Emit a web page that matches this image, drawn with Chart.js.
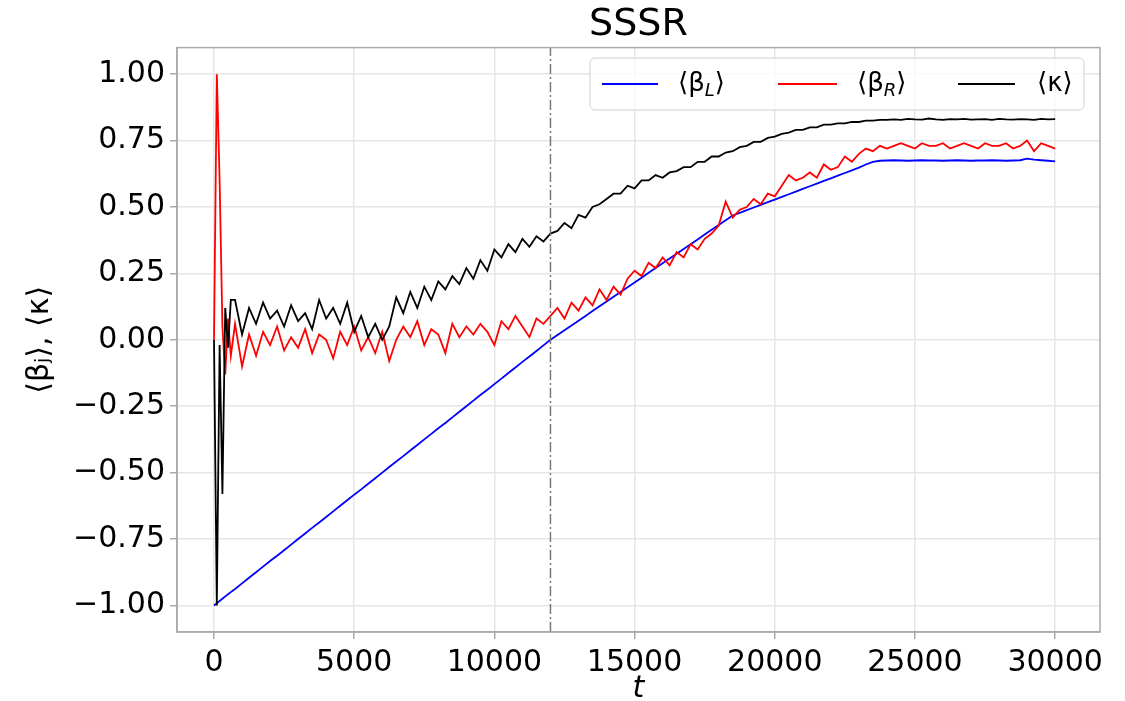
<!DOCTYPE html>
<html>
<head>
<meta charset="utf-8">
<script src="https://cdn.jsdelivr.net/npm/chart.js@4"></script>
<style>
  html, body { margin: 0; padding: 0; background: #fff; }
  #p5Canvas { width: 1125px; height: 701px; position: relative; }
</style>
</head>
<body>
<div id="p5Canvas"><canvas id="plotGraph"></canvas></div>
<script>
// time steps (t)
const tValues = [
  0, 100, 200, 300, 400, 500, 600,
  750, 1000, 1250, 1500, 1750, 2000, 2250, 2500, 2750, 3000,
  3250, 3500, 3750, 4000, 4250, 4500, 4750, 5000, 5250, 5500,
  5750, 6000, 6250, 6500, 6750, 7000, 7250, 7500, 7750, 8000,
  8250, 8500, 8750, 9000, 9250, 9500, 9750, 10000, 10250, 10500,
  10750, 11000, 11250, 11500, 11750, 12000,
  12250, 12500, 12750, 13000, 13250, 13500, 13750, 14000, 14250, 14500,
  14750, 15000, 15250, 15500, 15750, 16000, 16250, 16500, 16750, 17000,
  17250, 17500, 17750, 18000, 18250, 18500, 18750, 19000, 19250, 19500,
  19750, 20000, 20250, 20500, 20750, 21000, 21250, 21500, 21750, 22000,
  22250, 22500, 22750, 23000, 23250, 23500, 23750, 24000,
  24250, 24500, 24750, 25000, 25250, 25500, 25750, 26000, 26250, 26500,
  26750, 27000, 27250, 27500, 27750, 28000, 28250, 28500, 28750, 29000,
  29250, 29500, 29750, 30000
]

// <beta_L>
const betaL = [
  -1.0, -0.992, -0.983, -0.975, -0.966, -0.958, -0.950,
  -0.938, -0.917, -0.896, -0.875, -0.854, -0.833, -0.813, -0.792, -0.771, -0.750,
  -0.729, -0.708, -0.688, -0.667, -0.646, -0.625, -0.604, -0.583, -0.563, -0.542,
  -0.521, -0.500, -0.479, -0.458, -0.438, -0.417, -0.396, -0.375, -0.354, -0.333,
  -0.313, -0.292, -0.271, -0.250, -0.229, -0.208, -0.188, -0.167, -0.146, -0.125,
  -0.104, -0.083, -0.063, -0.042, -0.021, 0.000,
  0.018, 0.036, 0.054, 0.072, 0.090, 0.108, 0.126, 0.144, 0.162, 0.180,
  0.198, 0.216, 0.234, 0.252, 0.270, 0.288, 0.306, 0.324, 0.342, 0.360,
  0.378, 0.396, 0.414, 0.432, 0.450, 0.468, 0.478, 0.488, 0.498, 0.508,
  0.518, 0.528, 0.538, 0.548, 0.558, 0.568, 0.578, 0.588, 0.598, 0.608,
  0.618, 0.628, 0.638, 0.648, 0.660, 0.670, 0.674, 0.675,
  0.676, 0.675, 0.674, 0.675, 0.676, 0.675, 0.675, 0.674, 0.675, 0.676,
  0.675, 0.674, 0.675, 0.675, 0.676, 0.675, 0.674, 0.675, 0.676, 0.682,
  0.678, 0.676, 0.674, 0.672
]

// <beta_R>
const betaR = [
  0.0, 1.0, 0.60, 0.05, -0.13, 0.08, -0.06,
  0.06, -0.10, 0.02, -0.06, 0.03, -0.02, 0.05, -0.04, 0.01, -0.03,
  0.04, -0.05, 0.02, 0.00, -0.07, 0.03, -0.02, 0.05, -0.04, 0.01,
  -0.05, 0.03, -0.08, 0.00, 0.05, 0.01, 0.07, -0.02, 0.04, 0.02,
  -0.05, 0.06, 0.01, 0.05, 0.02, 0.06, 0.03, -0.02, 0.07, 0.04,
  0.09, 0.05, 0.01, 0.08, 0.06, 0.09,
  0.12, 0.08, 0.14, 0.11, 0.16, 0.13, 0.19, 0.15, 0.20, 0.17,
  0.23, 0.26, 0.24, 0.29, 0.27, 0.31, 0.28, 0.33, 0.31, 0.36,
  0.34, 0.38, 0.40, 0.43, 0.52, 0.46, 0.49, 0.50, 0.53, 0.51,
  0.55, 0.54, 0.58, 0.62, 0.60, 0.61, 0.63, 0.61, 0.66, 0.64,
  0.65, 0.69, 0.67, 0.70, 0.72, 0.71, 0.73, 0.72,
  0.73, 0.74, 0.73, 0.72, 0.74, 0.73, 0.73, 0.74, 0.72, 0.73,
  0.74, 0.73, 0.72, 0.74, 0.73, 0.73, 0.74, 0.72, 0.73, 0.75,
  0.71, 0.74, 0.73, 0.72
]

// <kappa>
const kappa = [
  0.0, -1.0, -0.02, -0.58, 0.12, -0.03, 0.15,
  0.15, 0.02, 0.12, 0.06, 0.14, 0.08, 0.11, 0.05, 0.13, 0.07,
  0.10, 0.04, 0.15, 0.08, 0.12, 0.06, 0.14, 0.03, 0.09, 0.01,
  0.06, 0.00, 0.05, 0.16, 0.10, 0.18, 0.12, 0.20, 0.15, 0.22,
  0.19, 0.24, 0.21, 0.27, 0.23, 0.30, 0.26, 0.34, 0.31, 0.36,
  0.33, 0.38, 0.35, 0.39, 0.37, 0.40,
  0.41, 0.44, 0.42, 0.47, 0.46, 0.50, 0.51, 0.53, 0.55, 0.55,
  0.58, 0.57, 0.60, 0.60, 0.62, 0.61, 0.63, 0.635, 0.65, 0.65,
  0.67, 0.67, 0.69, 0.69, 0.705, 0.71, 0.725, 0.73, 0.745, 0.745,
  0.76, 0.765, 0.775, 0.78, 0.79, 0.79, 0.80, 0.80, 0.81, 0.81,
  0.815, 0.815, 0.82, 0.82, 0.825, 0.825, 0.828, 0.828,
  0.83, 0.828, 0.832, 0.83, 0.829, 0.833, 0.83, 0.828, 0.831, 0.83,
  0.832, 0.829, 0.83, 0.831, 0.828, 0.832, 0.83, 0.829, 0.831, 0.83,
  0.828, 0.832, 0.83, 0.831
]

const markerT = 12000
const xTicks = [0, 5000, 10000, 15000, 20000, 25000, 30000]
const yTicks = [-1.0, -0.75, -0.5, -0.25, 0, 0.25, 0.5, 0.75, 1.0]

const FONT = "'DejaVu Sans', sans-serif"

function toPoints(arr) {
  return arr.map((v, i) => ({ x: tValues[i], y: v }))
}

// 枠線と凡例
const framePlugin = {
  id: 'frameAndLegend',
  afterDatasetsDraw(chart) {
    const { ctx, chartArea: a } = chart
    ctx.save()
    ctx.strokeStyle = '#aaaaaa'
    ctx.lineWidth = 1.5
    ctx.strokeRect(a.left, a.top, a.right - a.left, a.bottom - a.top)

    // legend box
    const bx = 590, by = 58, bw = 494, bh = 52, r = 5
    ctx.beginPath()
    ctx.moveTo(bx + r, by)
    ctx.arcTo(bx + bw, by, bx + bw, by + bh, r)
    ctx.arcTo(bx + bw, by + bh, bx, by + bh, r)
    ctx.arcTo(bx, by + bh, bx, by, r)
    ctx.arcTo(bx, by, bx + bw, by, r)
    ctx.closePath()
    ctx.fillStyle = 'rgba(255,255,255,0.8)'
    ctx.fill()
    ctx.strokeStyle = '#d0d0d0'
    ctx.lineWidth = 1
    ctx.stroke()

    const items = [
      { color: 'blue', x0: 602, x1: 658, tx: 678, base: '⟨β', sub: 'L', end: '⟩' },
      { color: 'red', x0: 778, x1: 837, tx: 857, base: '⟨β', sub: 'R', end: '⟩' },
      { color: 'black', x0: 958, x1: 1015, tx: 1037, base: '⟨κ', sub: '', end: '⟩' }
    ]
    const ly = 84
    items.forEach(it => {
      ctx.strokeStyle = it.color
      ctx.lineWidth = 2
      ctx.beginPath()
      ctx.moveTo(it.x0, ly)
      ctx.lineTo(it.x1, ly)
      ctx.stroke()
      ctx.fillStyle = '#000'
      ctx.textBaseline = 'middle'
      ctx.textAlign = 'left'
      ctx.font = '26px ' + FONT
      let x = it.tx
      ctx.fillText(it.base, x, ly)
      x += ctx.measureText(it.base).width
      if (it.sub) {
        ctx.font = 'italic 18px ' + FONT
        ctx.fillText(it.sub, x, ly + 7)
        x += ctx.measureText(it.sub).width
        ctx.font = '26px ' + FONT
      }
      ctx.fillText(it.end, x, ly)
    })
    ctx.restore()
  }
}

let mainChartObj
function drawGraph() {
  const mainData = {
    datasets: [
      {
        label: '⟨β_L⟩',
        data: toPoints(betaL),
        borderColor: 'blue',
        borderWidth: 1.8,
        pointRadius: 0,
        order: 3
      },
      {
        label: '⟨β_R⟩',
        data: toPoints(betaR),
        borderColor: 'red',
        borderWidth: 1.8,
        pointRadius: 0,
        order: 2
      },
      {
        label: '⟨κ⟩',
        data: toPoints(kappa),
        borderColor: 'black',
        borderWidth: 1.8,
        pointRadius: 0,
        order: 1
      },
      {
        label: 'marker',
        data: [{ x: markerT, y: -1.1 }, { x: markerT, y: 1.1 }],
        borderColor: '#777777',
        borderWidth: 1.5,
        borderDash: [10, 3, 2, 3],
        pointRadius: 0,
        order: 0
      }
    ]
  }

  const mainOptions = {
    responsive: true,
    maintainAspectRatio: false,
    animation: false,
    devicePixelRatio: 1,
    layout: { padding: { left: 0, right: 25, top: 0, bottom: 0 } },
    plugins: {
      legend: { display: false },
      tooltip: { enabled: false },
      title: {
        display: true,
        text: 'SSSR',
        fullSize: false,
        color: '#000',
        font: { family: FONT, size: 38, weight: 'normal' },
        padding: { top: 2, bottom: 0 }
      }
    },
    scales: {
      x: {
        type: 'linear',
        min: -1320,
        max: 31600,
        afterBuildTicks: s => { s.ticks = xTicks.map(v => ({ value: v })) },
        afterFit: s => { s.height = 69 },
        ticks: {
          autoSkip: false,
          maxRotation: 0,
          color: '#000',
          padding: 6,
          font: { family: FONT, size: 30 },
          callback: v => String(v)
        },
        grid: { color: '#e6e6e6', lineWidth: 1.5, tickLength: 7, tickColor: '#aaaaaa' },
        border: { display: true, color: '#aaaaaa', width: 1.5 },
        title: {
          display: true,
          text: 't',
          color: '#000',
          font: { family: FONT, size: 30, style: 'italic', lineHeight: 0.8 },
          padding: { top: 0, bottom: 0 }
        }
      },
      y: {
        type: 'linear',
        min: -1.1,
        max: 1.1,
        afterBuildTicks: s => { s.ticks = yTicks.map(v => ({ value: v })) },
        afterFit: s => { s.width = 177 },
        ticks: {
          color: '#000',
          padding: 5,
          font: { family: FONT, size: 30 },
          callback: v => v.toFixed(2).replace('-', '−')
        },
        grid: { color: '#e6e6e6', lineWidth: 1.5, tickLength: 7, tickColor: '#aaaaaa' },
        border: { display: true, color: '#aaaaaa', width: 1.5 },
        title: {
          display: true,
          text: '⟨βⱼ⟩, ⟨κ⟩',
          color: '#000',
          font: { family: FONT, size: 30 },
          padding: { top: 22, bottom: 0 }
        }
      }
    }
  }

  const mainCtx = document.getElementById('plotGraph')
  mainChartObj = new Chart(mainCtx, {
    type: 'line',
    data: mainData,
    options: mainOptions,
    plugins: [framePlugin]
  })
}

drawGraph()
</script>
</body>
</html>
